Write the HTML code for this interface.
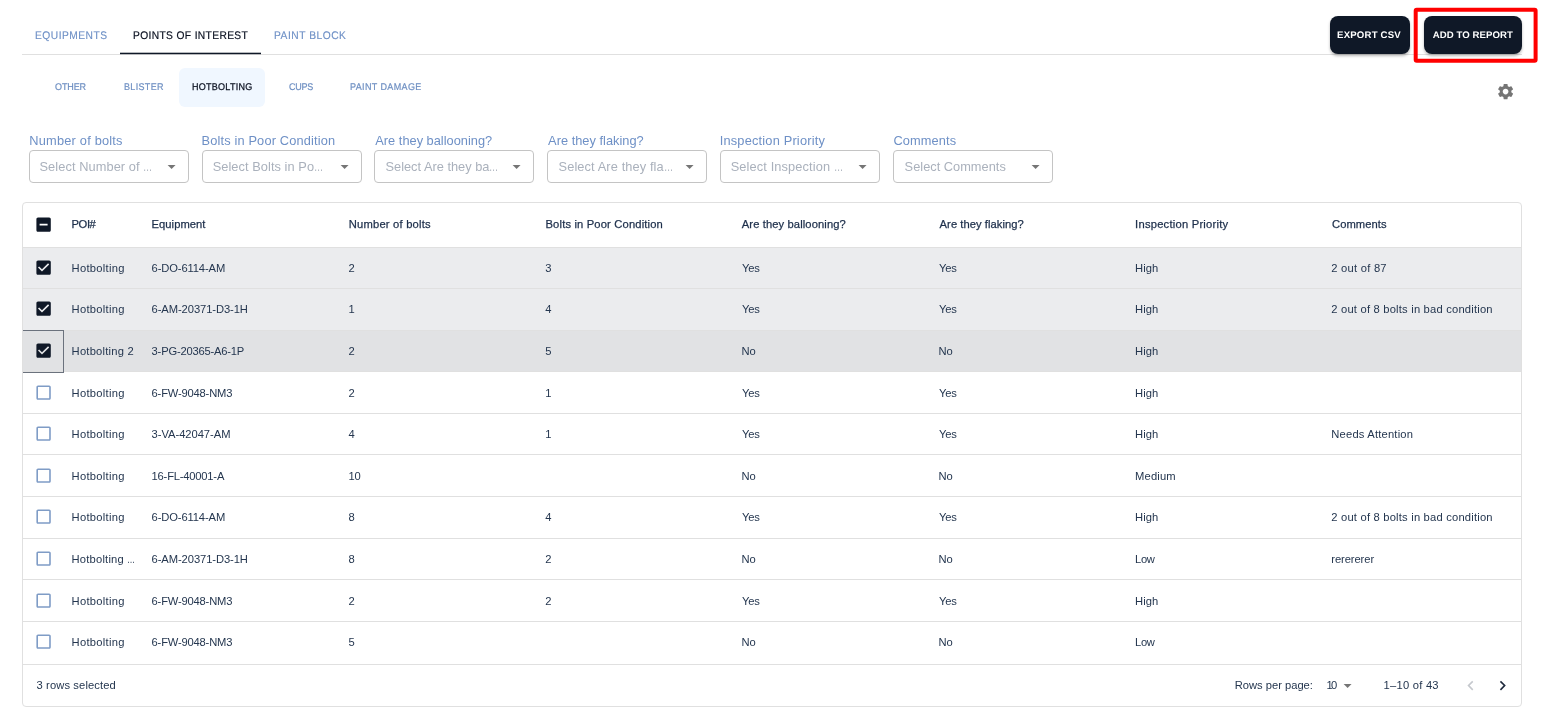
<!DOCTYPE html>
<html lang="en"><head><meta charset="utf-8"><title>Points of Interest - Hotbolting</title>
<style>
html,body{margin:0;padding:0;background:#fff}
body{width:1545px;height:728px;position:relative;overflow:hidden;font-family:"Liberation Sans",sans-serif;color:#1f3252}
.x{position:absolute;white-space:nowrap;line-height:1;display:block}
.a{position:absolute;display:block}
.el{display:inline-block;font-style:normal;letter-spacing:0;transform:scaleX(.72);transform-origin:0 50%;margin-right:-.28em}
.tt{text-rendering:geometricPrecision;transform:scaleX(.93);transform-origin:0 50%;font-size:11.0px;color:#6e90c6;-webkit-text-stroke:.15px #6e90c6}
.tt.act{color:#0a1020;-webkit-text-stroke:.2px #0a1020}
.st{text-rendering:geometricPrecision;transform:scaleX(.93);transform-origin:0 50%;font-size:9.7px;color:#6e8fc2;-webkit-text-stroke:.2px #6e8fc2}
.st.act{color:#0a1020;-webkit-text-stroke:.25px #0a1020}
.bt{text-rendering:geometricPrecision;font-size:9.6px;color:#fff;font-weight:bold}
.fl{font-size:12.8px;color:#6e90c6}
.ph{font-size:12.8px;color:#aab1bc}
.th{font-size:11.2px;color:#1d2f4b;-webkit-text-stroke:.25px #1d2f4b}
.td{font-size:11.2px;color:#24364f}
.ft{font-size:11.2px;color:#24364f}
.btn{background:#0f1827;border-radius:8px;box-shadow:0 2px 3px rgba(0,0,0,.28)}
.sel{border:1px solid #c4c4c4;border-radius:4px;box-sizing:border-box;height:33px;width:160px;top:150px}
.row{left:23px;width:1498px;border-top:1px solid #e0e0e0;box-sizing:border-box}
.row.sel1{background:#ebecee}
.row.sel2{background:#e1e2e4}
</style></head>
<body>
<header>
<div class="a" style="left:22px;top:54px;width:1500px;height:1px;background:#e0e0e0"></div>
<svg class="a" style="left:118px;top:50px" width="146" height="6"><rect x="2" y="2.7" width="141" height="1.5" fill="#0f1827"/></svg>
<nav><span id="t1" class="x tt" style="left:35.10px;top:30.69px;letter-spacing:0.528px;">EQUIPMENTS</span><span id="t2" class="x tt act" style="left:132.70px;top:30.69px;letter-spacing:0.394px;">POINTS OF INTEREST</span><span id="t3" class="x tt" style="left:274.00px;top:30.69px;letter-spacing:0.560px;">PAINT BLOCK</span></nav>
<div class="a btn" style="left:1330px;top:16px;width:80px;height:38px"></div><span id="b1" class="x bt" style="left:1337.10px;top:31.27px;letter-spacing:0.189px;">EXPORT CSV</span>
<div class="a btn" style="left:1424px;top:16px;width:98px;height:38px"></div><span id="b2" class="x bt" style="left:1432.70px;top:31.27px;letter-spacing:0.079px;">ADD TO REPORT</span>
<svg class="a" style="left:1410px;top:4px" width="132" height="62"><rect x="5.7" y="5.7" width="119.9" height="51" rx="1" fill="none" stroke="#ff0000" stroke-width="4"/></svg>
</header>
<div class="a" style="left:179px;top:68px;width:86px;height:39px;background:#f0f7ff;border-radius:6px"></div>
<nav><span id="s1" class="x st" style="left:55.30px;top:82.59px;letter-spacing:-0.125px;">OTHER</span><span id="s2" class="x st" style="left:123.90px;top:82.59px;letter-spacing:0.350px;">BLISTER</span><span id="s3" class="x st act" style="left:192.10px;top:82.59px;letter-spacing:0.280px;">HOTBOLTING</span><span id="s4" class="x st" style="left:289.30px;top:82.59px;letter-spacing:-0.233px;">CUPS</span><span id="s5" class="x st" style="left:349.70px;top:82.59px;letter-spacing:0.395px;">PAINT DAMAGE</span></nav>
<svg class="a" style="left:1495.90px;top:81.80px" width="19.2" height="19.2" viewBox="0 0 24 24"><path fill="#757575" d="M19.14 12.94c.04-.3.06-.61.06-.94 0-.32-.02-.64-.07-.94l2.03-1.58c.18-.14.23-.41.12-.61l-1.92-3.32c-.12-.22-.37-.29-.59-.22l-2.39.96c-.5-.38-1.03-.7-1.62-.94l-.36-2.54c-.04-.24-.24-.41-.48-.41h-3.84c-.24 0-.43.17-.47.41l-.36 2.54c-.59.24-1.13.57-1.62.94l-2.39-.96c-.22-.08-.47 0-.59.22L2.74 8.87c-.12.21-.08.47.12.61l2.03 1.58c-.05.3-.09.63-.09.94s.02.64.07.94l-2.03 1.58c-.18.14-.23.41-.12.61l1.92 3.32c.12.22.37.29.59.22l2.39-.96c.5.38 1.03.7 1.62.94l.36 2.54c.05.24.24.41.48.41h3.84c.24 0 .44-.17.47-.41l.36-2.54c.59-.24 1.13-.56 1.62-.94l2.39.96c.22.08.47 0 .59-.22l1.92-3.32c.12-.22.07-.47-.12-.61l-2.01-1.58zM12 15.6c-1.98 0-3.6-1.62-3.6-3.6s1.62-3.6 3.6-3.6 3.6 1.62 3.6 3.6-1.62 3.6-3.6 3.6z"/></svg>
<section>
<div class="a sel" style="left:29px"></div>
<svg class="a" style="left:161.60px;top:157.10px" width="19.2" height="19.2" viewBox="0 0 24 24"><path fill="#757575" d="M7 10l5 5 5-5z"/></svg>
<span id="fl0" class="x fl" style="left:29.30px;top:134.66px;letter-spacing:0.207px;">Number of bolts</span><span id="ph0" class="x ph" style="left:39.50px;top:160.76px;letter-spacing:0.082px;">Select Number of <i class="el">…</i></span>
<div class="a sel" style="left:202px"></div>
<svg class="a" style="left:334.60px;top:157.10px" width="19.2" height="19.2" viewBox="0 0 24 24"><path fill="#757575" d="M7 10l5 5 5-5z"/></svg>
<span id="fl1" class="x fl" style="left:201.50px;top:134.66px;letter-spacing:0.155px;">Bolts in Poor Condition</span><span id="ph1" class="x ph" style="left:212.70px;top:160.76px;letter-spacing:0.061px;">Select Bolts in Po<i class="el">…</i></span>
<div class="a sel" style="left:374px"></div>
<svg class="a" style="left:506.60px;top:157.10px" width="19.2" height="19.2" viewBox="0 0 24 24"><path fill="#757575" d="M7 10l5 5 5-5z"/></svg>
<span id="fl2" class="x fl" style="left:375.30px;top:134.66px;letter-spacing:0.011px;">Are they ballooning?</span><span id="ph2" class="x ph" style="left:385.50px;top:160.76px;">Select Are they ba<i class="el">…</i></span>
<div class="a sel" style="left:547px"></div>
<svg class="a" style="left:679.60px;top:157.10px" width="19.2" height="19.2" viewBox="0 0 24 24"><path fill="#757575" d="M7 10l5 5 5-5z"/></svg>
<span id="fl3" class="x fl" style="left:548.10px;top:134.66px;letter-spacing:0.019px;">Are they flaking?</span><span id="ph3" class="x ph" style="left:558.50px;top:160.76px;letter-spacing:0.113px;">Select Are they fla<i class="el">…</i></span>
<div class="a sel" style="left:720px"></div>
<svg class="a" style="left:852.60px;top:157.10px" width="19.2" height="19.2" viewBox="0 0 24 24"><path fill="#757575" d="M7 10l5 5 5-5z"/></svg>
<span id="fl4" class="x fl" style="left:719.70px;top:134.66px;letter-spacing:0.192px;">Inspection Priority</span><span id="ph4" class="x ph" style="left:730.70px;top:160.76px;letter-spacing:0.117px;">Select Inspection <i class="el">…</i></span>
<div class="a sel" style="left:893px"></div>
<svg class="a" style="left:1025.60px;top:157.10px" width="19.2" height="19.2" viewBox="0 0 24 24"><path fill="#757575" d="M7 10l5 5 5-5z"/></svg>
<span id="fl5" class="x fl" style="left:893.50px;top:134.66px;letter-spacing:0.100px;">Comments</span><span id="ph5" class="x ph" style="left:904.60px;top:160.76px;letter-spacing:0.014px;">Select Comments</span>
</section>
<main>
<div class="a" style="left:22px;top:202px;width:1500px;height:505px;box-sizing:border-box;border:1px solid #e0e0e0;border-radius:4px"></div>
<svg class="a" style="left:33.95px;top:214.85px" width="19.2" height="19.2" viewBox="0 0 24 24"><path fill="#0f1827" d="M19 3H5c-1.1 0-2 .9-2 2v14c0 1.1.9 2 2 2h14c1.1 0 2-.9 2-2V5c0-1.1-.9-2-2-2zm-2 10H7v-2h10v2z"/></svg>
<span id="th0" class="x th" style="left:71.60px;top:218.82px;letter-spacing:-0.433px;">POI#</span><span id="th1" class="x th" style="left:151.60px;top:218.82px;letter-spacing:0.038px;">Equipment</span><span id="th2" class="x th" style="left:348.70px;top:218.82px;letter-spacing:0.214px;">Number of bolts</span><span id="th3" class="x th" style="left:545.50px;top:218.82px;letter-spacing:0.159px;">Bolts in Poor Condition</span><span id="th4" class="x th" style="left:741.80px;top:218.82px;letter-spacing:0.105px;">Are they ballooning?</span><span id="th5" class="x th" style="left:939.60px;top:218.82px;letter-spacing:0.056px;">Are they flaking?</span><span id="th6" class="x th" style="left:1135.10px;top:218.82px;letter-spacing:0.228px;">Inspection Priority</span><span id="th7" class="x th" style="left:1332.00px;top:218.82px;letter-spacing:0.064px;">Comments</span>
<div class="a row sel1" style="top:247px;height:41px"></div>
<svg class="a" style="left:33.95px;top:257.85px" width="19.2" height="19.2" viewBox="0 0 24 24"><path fill="#0f1827" d="M19 3H5c-1.11 0-2 .9-2 2v14c0 1.1.89 2 2 2h14c1.11 0 2-.9 2-2V5c0-1.1-.89-2-2-2zm-9 14l-5-5 1.41-1.41L10 14.17l7.59-7.59L19 8l-9 9z"/></svg>
<span id="c0_0" class="x td" style="left:71.60px;top:263.03px;letter-spacing:0.278px;">Hotbolting</span><span id="c0_1" class="x td" style="left:151.60px;top:263.03px;letter-spacing:-0.127px;">6-DO-6114-AM</span><span id="c0_2" class="x td" style="left:348.40px;top:263.03px;">2</span><span id="c0_3" class="x td" style="left:545.20px;top:263.03px;">3</span><span id="c0_4" class="x td" style="left:742.08px;top:263.03px;letter-spacing:-0.300px;">Yes</span><span id="c0_5" class="x td" style="left:939.12px;top:263.03px;letter-spacing:-0.300px;">Yes</span><span id="c0_6" class="x td" style="left:1135.10px;top:263.03px;letter-spacing:0.033px;">High</span><span id="c0_7" class="x td" style="left:1331.30px;top:263.03px;letter-spacing:0.240px;">2 out of 87</span>
<div class="a row sel1" style="top:288px;height:42px"></div>
<svg class="a" style="left:33.95px;top:299.45px" width="19.2" height="19.2" viewBox="0 0 24 24"><path fill="#0f1827" d="M19 3H5c-1.11 0-2 .9-2 2v14c0 1.1.89 2 2 2h14c1.11 0 2-.9 2-2V5c0-1.1-.89-2-2-2zm-9 14l-5-5 1.41-1.41L10 14.17l7.59-7.59L19 8l-9 9z"/></svg>
<span id="c1_0" class="x td" style="left:71.60px;top:304.03px;letter-spacing:0.278px;">Hotbolting</span><span id="c1_1" class="x td" style="left:151.60px;top:304.03px;letter-spacing:-0.087px;">6-AM-20371-D3-1H</span><span id="c1_2" class="x td" style="left:348.40px;top:304.03px;">1</span><span id="c1_3" class="x td" style="left:545.20px;top:304.03px;">4</span><span id="c1_4" class="x td" style="left:742.08px;top:304.03px;letter-spacing:-0.300px;">Yes</span><span id="c1_5" class="x td" style="left:939.12px;top:304.03px;letter-spacing:-0.300px;">Yes</span><span id="c1_6" class="x td" style="left:1135.10px;top:304.03px;letter-spacing:0.033px;">High</span><span id="c1_7" class="x td" style="left:1331.30px;top:304.03px;letter-spacing:0.200px;">2 out of 8 bolts in bad condition</span>
<div class="a row sel2" style="top:330px;height:41px"></div>
<svg class="a" style="left:33.95px;top:341.05px" width="19.2" height="19.2" viewBox="0 0 24 24"><path fill="#0f1827" d="M19 3H5c-1.11 0-2 .9-2 2v14c0 1.1.89 2 2 2h14c1.11 0 2-.9 2-2V5c0-1.1-.89-2-2-2zm-9 14l-5-5 1.41-1.41L10 14.17l7.59-7.59L19 8l-9 9z"/></svg>
<span id="c2_0" class="x td" style="left:71.60px;top:346.03px;letter-spacing:0.218px;">Hotbolting 2</span><span id="c2_1" class="x td" style="left:151.60px;top:346.03px;letter-spacing:-0.203px;">3-PG-20365-A6-1P</span><span id="c2_2" class="x td" style="left:348.40px;top:346.03px;">2</span><span id="c2_3" class="x td" style="left:545.20px;top:346.03px;">5</span><span id="c2_4" class="x td" style="left:741.40px;top:346.03px;">No</span><span id="c2_5" class="x td" style="left:938.45px;top:346.03px;">No</span><span id="c2_6" class="x td" style="left:1135.10px;top:346.03px;letter-spacing:0.033px;">High</span>
<div class="a row" style="top:371px;height:42px"></div>
<svg class="a" style="left:33.95px;top:382.65px" width="19.2" height="19.2" viewBox="0 0 24 24"><path fill="#7f9cc6" d="M19 5v14H5V5h14m0-2H5c-1.1 0-2 .9-2 2v14c0 1.1.9 2 2 2h14c1.1 0 2-.9 2-2V5c0-1.1-.9-2-2-2z"/></svg>
<span id="c3_0" class="x td" style="left:71.60px;top:388.03px;letter-spacing:0.278px;">Hotbolting</span><span id="c3_1" class="x td" style="left:151.60px;top:388.03px;letter-spacing:-0.192px;">6-FW-9048-NM3</span><span id="c3_2" class="x td" style="left:348.40px;top:388.03px;">2</span><span id="c3_3" class="x td" style="left:545.20px;top:388.03px;">1</span><span id="c3_4" class="x td" style="left:742.08px;top:388.03px;letter-spacing:-0.300px;">Yes</span><span id="c3_5" class="x td" style="left:939.12px;top:388.03px;letter-spacing:-0.300px;">Yes</span><span id="c3_6" class="x td" style="left:1135.10px;top:388.03px;letter-spacing:0.033px;">High</span>
<div class="a row" style="top:413px;height:41px"></div>
<svg class="a" style="left:33.95px;top:424.25px" width="19.2" height="19.2" viewBox="0 0 24 24"><path fill="#7f9cc6" d="M19 5v14H5V5h14m0-2H5c-1.1 0-2 .9-2 2v14c0 1.1.9 2 2 2h14c1.1 0 2-.9 2-2V5c0-1.1-.9-2-2-2z"/></svg>
<span id="c4_0" class="x td" style="left:71.60px;top:429.03px;letter-spacing:0.278px;">Hotbolting</span><span id="c4_1" class="x td" style="left:151.60px;top:429.03px;letter-spacing:-0.042px;">3-VA-42047-AM</span><span id="c4_2" class="x td" style="left:348.40px;top:429.03px;">4</span><span id="c4_3" class="x td" style="left:545.20px;top:429.03px;">1</span><span id="c4_4" class="x td" style="left:742.08px;top:429.03px;letter-spacing:-0.300px;">Yes</span><span id="c4_5" class="x td" style="left:939.12px;top:429.03px;letter-spacing:-0.300px;">Yes</span><span id="c4_6" class="x td" style="left:1135.10px;top:429.03px;letter-spacing:0.033px;">High</span><span id="c4_7" class="x td" style="left:1331.30px;top:429.03px;letter-spacing:0.193px;">Needs Attention</span>
<div class="a row" style="top:454px;height:42px"></div>
<svg class="a" style="left:33.95px;top:465.85px" width="19.2" height="19.2" viewBox="0 0 24 24"><path fill="#7f9cc6" d="M19 5v14H5V5h14m0-2H5c-1.1 0-2 .9-2 2v14c0 1.1.9 2 2 2h14c1.1 0 2-.9 2-2V5c0-1.1-.9-2-2-2z"/></svg>
<span id="c5_0" class="x td" style="left:71.60px;top:471.03px;letter-spacing:0.278px;">Hotbolting</span><span id="c5_1" class="x td" style="left:151.60px;top:471.03px;letter-spacing:-0.208px;">16-FL-40001-A</span><span id="c5_2" class="x td" style="left:348.40px;top:471.03px;">10</span><span id="c5_4" class="x td" style="left:741.40px;top:471.03px;">No</span><span id="c5_5" class="x td" style="left:938.45px;top:471.03px;">No</span><span id="c5_6" class="x td" style="left:1135.10px;top:471.03px;letter-spacing:0.160px;">Medium</span>
<div class="a row" style="top:496px;height:42px"></div>
<svg class="a" style="left:33.95px;top:507.45px" width="19.2" height="19.2" viewBox="0 0 24 24"><path fill="#7f9cc6" d="M19 5v14H5V5h14m0-2H5c-1.1 0-2 .9-2 2v14c0 1.1.9 2 2 2h14c1.1 0 2-.9 2-2V5c0-1.1-.9-2-2-2z"/></svg>
<span id="c6_0" class="x td" style="left:71.60px;top:512.03px;letter-spacing:0.278px;">Hotbolting</span><span id="c6_1" class="x td" style="left:151.60px;top:512.03px;letter-spacing:-0.127px;">6-DO-6114-AM</span><span id="c6_2" class="x td" style="left:348.40px;top:512.03px;">8</span><span id="c6_3" class="x td" style="left:545.20px;top:512.03px;">4</span><span id="c6_4" class="x td" style="left:742.08px;top:512.03px;letter-spacing:-0.300px;">Yes</span><span id="c6_5" class="x td" style="left:939.12px;top:512.03px;letter-spacing:-0.300px;">Yes</span><span id="c6_6" class="x td" style="left:1135.10px;top:512.03px;letter-spacing:0.033px;">High</span><span id="c6_7" class="x td" style="left:1331.30px;top:512.03px;letter-spacing:0.200px;">2 out of 8 bolts in bad condition</span>
<div class="a row" style="top:538px;height:41px"></div>
<svg class="a" style="left:33.95px;top:549.05px" width="19.2" height="19.2" viewBox="0 0 24 24"><path fill="#7f9cc6" d="M19 5v14H5V5h14m0-2H5c-1.1 0-2 .9-2 2v14c0 1.1.9 2 2 2h14c1.1 0 2-.9 2-2V5c0-1.1-.9-2-2-2z"/></svg>
<span id="c7_0" class="x td" style="left:71.60px;top:554.03px;letter-spacing:0.191px;">Hotbolting <i class="el">…</i></span><span id="c7_1" class="x td" style="left:151.60px;top:554.03px;letter-spacing:-0.087px;">6-AM-20371-D3-1H</span><span id="c7_2" class="x td" style="left:348.40px;top:554.03px;">8</span><span id="c7_3" class="x td" style="left:545.20px;top:554.03px;">2</span><span id="c7_4" class="x td" style="left:741.40px;top:554.03px;">No</span><span id="c7_5" class="x td" style="left:938.45px;top:554.03px;">No</span><span id="c7_6" class="x td" style="left:1135.10px;top:554.03px;letter-spacing:-0.350px;">Low</span><span id="c7_7" class="x td" style="left:1331.30px;top:554.03px;letter-spacing:-0.087px;">rerererer</span>
<div class="a row" style="top:579px;height:42px"></div>
<svg class="a" style="left:33.95px;top:590.65px" width="19.2" height="19.2" viewBox="0 0 24 24"><path fill="#7f9cc6" d="M19 5v14H5V5h14m0-2H5c-1.1 0-2 .9-2 2v14c0 1.1.9 2 2 2h14c1.1 0 2-.9 2-2V5c0-1.1-.9-2-2-2z"/></svg>
<span id="c8_0" class="x td" style="left:71.60px;top:596.03px;letter-spacing:0.278px;">Hotbolting</span><span id="c8_1" class="x td" style="left:151.60px;top:596.03px;letter-spacing:-0.192px;">6-FW-9048-NM3</span><span id="c8_2" class="x td" style="left:348.40px;top:596.03px;">2</span><span id="c8_3" class="x td" style="left:545.20px;top:596.03px;">2</span><span id="c8_4" class="x td" style="left:742.08px;top:596.03px;letter-spacing:-0.300px;">Yes</span><span id="c8_5" class="x td" style="left:939.12px;top:596.03px;letter-spacing:-0.300px;">Yes</span><span id="c8_6" class="x td" style="left:1135.10px;top:596.03px;letter-spacing:0.033px;">High</span>
<div class="a row" style="top:621px;height:42px"></div>
<svg class="a" style="left:33.95px;top:632.25px" width="19.2" height="19.2" viewBox="0 0 24 24"><path fill="#7f9cc6" d="M19 5v14H5V5h14m0-2H5c-1.1 0-2 .9-2 2v14c0 1.1.9 2 2 2h14c1.1 0 2-.9 2-2V5c0-1.1-.9-2-2-2z"/></svg>
<span id="c9_0" class="x td" style="left:71.60px;top:637.03px;letter-spacing:0.278px;">Hotbolting</span><span id="c9_1" class="x td" style="left:151.60px;top:637.03px;letter-spacing:-0.192px;">6-FW-9048-NM3</span><span id="c9_2" class="x td" style="left:348.40px;top:637.03px;">5</span><span id="c9_4" class="x td" style="left:741.40px;top:637.03px;">No</span><span id="c9_5" class="x td" style="left:938.45px;top:637.03px;">No</span><span id="c9_6" class="x td" style="left:1135.10px;top:637.03px;letter-spacing:-0.350px;">Low</span>
<div class="a" style="left:23px;top:330px;width:41px;height:43px;box-sizing:border-box;border:1px solid #6b727d;border-left:none"></div>
<div class="a" style="left:23px;top:664px;width:1498px;height:1px;background:#e0e0e0"></div>
<span id="f1" class="x ft" style="left:36.50px;top:679.52px;letter-spacing:0.114px;">3 rows selected</span><span id="f2" class="x ft" style="left:1234.70px;top:679.52px;letter-spacing:-0.008px;">Rows per page:</span><span id="f3" class="x ft" style="left:1326.60px;top:679.52px;letter-spacing:-1.700px;">10</span><span id="f4" class="x ft" style="left:1383.60px;top:679.52px;letter-spacing:0.233px;">1–10 of 43</span>
<svg class="a" style="left:1337.55px;top:675.90px" width="19.2" height="19.2" viewBox="0 0 24 24"><path fill="#757575" d="M7 10l5 5 5-5z"/></svg>
<svg class="a" style="left:1461.40px;top:675.70px" width="19.2" height="19.2" viewBox="0 0 24 24"><path fill="#c5c8cd" d="M15.41 16.59L10.83 12l4.58-4.59L14 6l-6 6 6 6 1.41-1.41z"/></svg>
<svg class="a" style="left:1492.90px;top:675.70px" width="19.2" height="19.2" viewBox="0 0 24 24"><path fill="#1f2a3d" d="M8.59 16.59L13.17 12 8.59 7.41 10 6l6 6-6 6-1.41-1.41z"/></svg>
</main>
</body></html>
